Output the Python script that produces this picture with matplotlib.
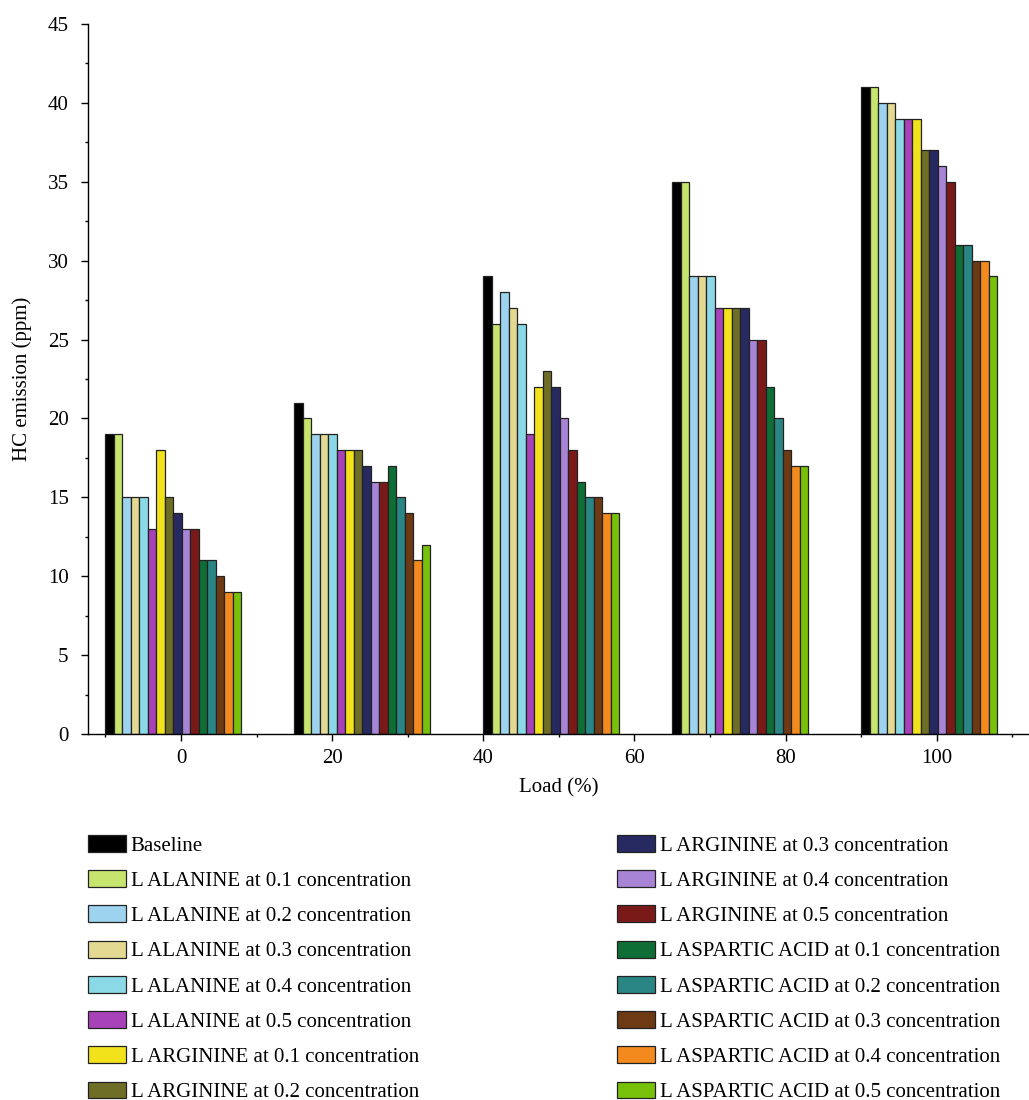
import numpy as np
import matplotlib
matplotlib.use("Agg")
import matplotlib.pyplot as plt
from matplotlib.ticker import MultipleLocator

plt.rcParams['font.family'] = ['Liberation Serif', 'DejaVu Serif']

# group positions on the load axis
loads = [0, 25, 50, 75, 100]

series = [
    "Baseline",
    "L ALANINE at 0.1 concentration",
    "L ALANINE at 0.2 concentration",
    "L ALANINE at 0.3 concentration",
    "L ALANINE at 0.4 concentration",
    "L ALANINE at 0.5 concentration",
    "L ARGININE at 0.1 concentration",
    "L ARGININE at 0.2 concentration",
    "L ARGININE at 0.3 concentration",
    "L ARGININE at 0.4 concentration",
    "L ARGININE at 0.5 concentration",
    "L ASPARTIC ACID at 0.1 concentration",
    "L ASPARTIC ACID at 0.2 concentration",
    "L ASPARTIC ACID at 0.3 concentration",
    "L ASPARTIC ACID at 0.4 concentration",
    "L ASPARTIC ACID at 0.5 concentration",
]

# HC emission (ppm), one list per load group, in series order
hc_0 = [19, 19, 15, 15, 15, 13, 18, 15, 14, 13, 13, 11, 11, 10, 9, 9]
hc_25 = [21, 20, 19, 19, 19, 18, 18, 18, 17, 16, 16, 17, 15, 14, 11, 12]
hc_50 = [29, 26, 28, 27, 26, 19, 22, 23, 22, 20, 18, 16, 15, 15, 14, 14]
hc_75 = [35, 35, 29, 29, 29, 27, 27, 27, 27, 25, 25, 22, 20, 18, 17, 17]
hc_100 = [41, 41, 40, 40, 39, 39, 39, 37, 37, 36, 35, 31, 31, 30, 30, 29]

colors = [
    "#000000", "#c6e46e", "#9dd3ee", "#e4d993", "#8bd8e6", "#a842b8",
    "#f2e21c", "#6f6e26", "#262a60", "#a884d6", "#7a1a18", "#0e6e35",
    "#2a8585", "#6e3a14", "#f28a1e", "#78c10a",
]

data = np.array([hc_0, hc_25, hc_50, hc_75, hc_100])

fig = plt.figure(figsize=(10.29, 11), dpi=100)
ax = fig.add_axes([88 / 1029, 366 / 1100, 1 - 88 / 1029, 710 / 1100])

bw = 1.125
handles = []
for i, name in enumerate(series):
    x = np.array(loads) - 10 + i * bw
    b = ax.bar(x, data[:, i], width=bw, align='edge', color=colors[i],
               edgecolor='#222222', linewidth=0.9, label=name)
    handles.append(b)

ax.set_xlim(-12.3, 112.2)
ax.set_ylim(0, 45)
ax.xaxis.set_major_locator(MultipleLocator(20))
ax.xaxis.set_minor_locator(MultipleLocator(10))
ax.yaxis.set_major_locator(MultipleLocator(5))
ax.yaxis.set_minor_locator(MultipleLocator(2.5))
ax.tick_params(which='major', direction='out', length=5, width=1, labelsize=15)
ax.tick_params(which='minor', direction='out', length=2.5, width=1)
ax.tick_params(axis='x', pad=6)
ax.tick_params(axis='y', pad=9)
for s in ['top', 'right']:
    ax.spines[s].set_visible(False)
for s in ['left', 'bottom']:
    ax.spines[s].set_linewidth(1.0)

ax.set_xlabel("Load (%)", fontsize=15, labelpad=7)
ax.set_ylabel("HC emission (ppm)", fontsize=15, labelpad=11)

leg_kw = dict(loc='upper left', frameon=False, fontsize=15,
              handlelength=1.8, handleheight=0.87, handletextpad=0.25,
              labelspacing=0.7, borderpad=0, borderaxespad=0)
fig.legend(handles[:8], series[:8], bbox_to_anchor=(88 / 1029, 1 - 835 / 1100), **leg_kw)
fig.legend(handles[8:], series[8:], bbox_to_anchor=(617 / 1029, 1 - 835 / 1100), **leg_kw)

fig.savefig("out.png", dpi=100)
